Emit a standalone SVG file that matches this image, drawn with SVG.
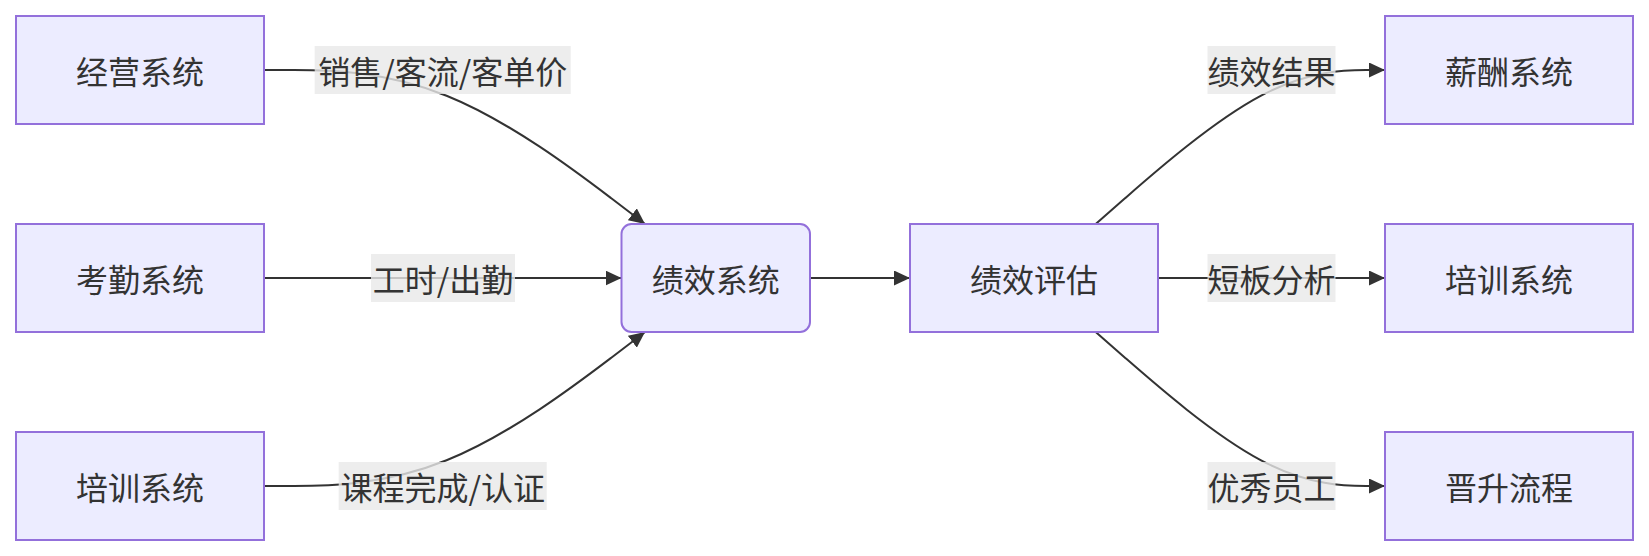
<svg xmlns="http://www.w3.org/2000/svg" width="1649" height="556" viewBox="0 0 1649 556">
<defs>
<marker id="arrow" viewBox="0 0 10 10" refX="10" refY="5" markerUnits="userSpaceOnUse" markerWidth="16" markerHeight="15" orient="auto" preserveAspectRatio="none">
<path d="M0,0 L10,5 L0,10 z" fill="#333333"/>
</marker>
</defs>
<style>
.node rect{fill:#ECECFF;stroke:#9370DB;stroke-width:2}
.node text,.label text{font-family:"Noto Sans CJK SC","Noto Sans",sans-serif;font-size:32px;fill:#333333;text-anchor:middle;dominant-baseline:central}
.edge{fill:none;stroke:#333333;stroke-width:2;marker-end:url(#arrow)}
.label rect{fill:#e8e8e8;opacity:0.8}
</style>
<rect x="0" y="0" width="1649" height="556" fill="#ffffff"/>
<g id="connectors">
<path class="edge" d="M264,70 L293.8,70 C323.6,70 383.1,70 446.6,95.7 C510.1,121.3 577.6,172.7 611.3,198.3 L645,224"/>
<path class="edge" d="M264,278 L621.5,278"/>
<path class="edge" d="M264,486 L293.8,486 C323.6,486 383.1,486 446.6,460.3 C510.1,434.7 577.6,383.3 611.3,357.7 L645,332"/>
<path class="edge" d="M810,278 L910,278"/>
<path class="edge" d="M1095.7,224 L1125,198.3 C1154.3,172.7 1212.9,121.3 1261.1,95.7 C1309.3,70 1347.2,70 1366.1,70 L1385,70"/>
<path class="edge" d="M1158,278 L1385,278"/>
<path class="edge" d="M1095.7,332 L1125,357.7 C1154.3,383.3 1212.9,434.7 1261.1,460.3 C1309.3,486 1347.2,486 1366.1,486 L1385,486"/>
</g>
<g id="edge-labels">
<g class="label" id="label-sales"><rect x="314.7" y="46" width="256" height="48"/><text x="442.7" y="70">销售/客流/客单价</text></g>
<g class="label" id="label-hours"><rect x="371" y="254" width="144" height="48"/><text x="443" y="278">工时/出勤</text></g>
<g class="label" id="label-course"><rect x="338.7" y="462" width="208" height="48"/><text x="442.7" y="486">课程完成/认证</text></g>
<g class="label" id="label-result"><rect x="1207.5" y="46" width="128" height="48"/><text x="1271.5" y="70">绩效结果</text></g>
<g class="label" id="label-short"><rect x="1207.5" y="254" width="128" height="48"/><text x="1271.5" y="278">短板分析</text></g>
<g class="label" id="label-excellent"><rect x="1207.5" y="462" width="128" height="48"/><text x="1271.5" y="486">优秀员工</text></g>
</g>
<g class="node" id="node-ops"><rect x="16" y="16" width="248" height="108"/><text x="140" y="70">经营系统</text></g>
<g class="node" id="node-attendance"><rect x="16" y="224" width="248" height="108"/><text x="140" y="278">考勤系统</text></g>
<g class="node" id="node-training-in"><rect x="16" y="432" width="248" height="108"/><text x="140" y="486">培训系统</text></g>
<g class="node" id="node-perf"><rect x="621.5" y="224" width="188.5" height="108" rx="10" ry="10"/><text x="715.7" y="278">绩效系统</text></g>
<g class="node" id="node-eval"><rect x="910" y="224" width="248" height="108"/><text x="1034" y="278">绩效评估</text></g>
<g class="node" id="node-salary"><rect x="1385" y="16" width="248" height="108"/><text x="1509" y="70">薪酬系统</text></g>
<g class="node" id="node-training-out"><rect x="1385" y="224" width="248" height="108"/><text x="1509" y="278">培训系统</text></g>
<g class="node" id="node-promotion"><rect x="1385" y="432" width="248" height="108"/><text x="1509" y="486">晋升流程</text></g>
</svg>
